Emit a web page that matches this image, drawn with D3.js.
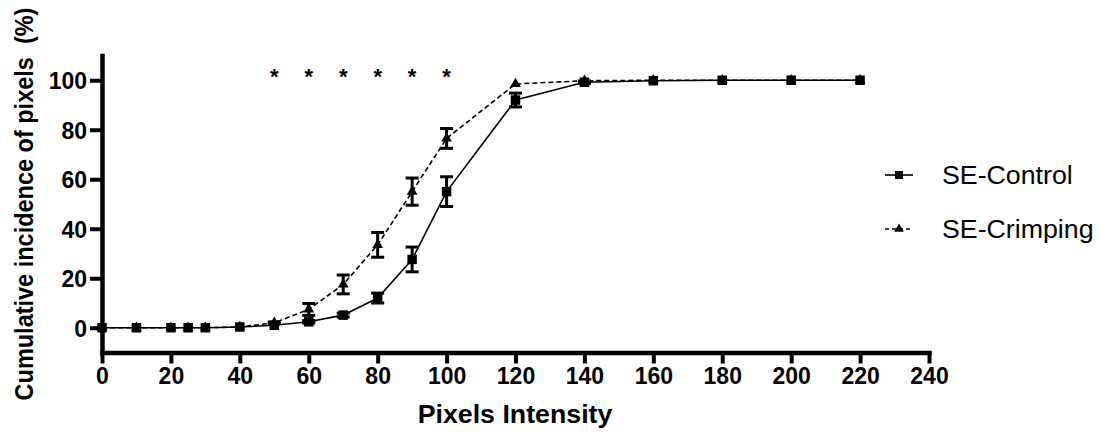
<!DOCTYPE html>
<html><head><meta charset="utf-8">
<script src="https://cdn.jsdelivr.net/npm/d3@7"></script>
<style>body{margin:0;background:#fff}svg{display:block}text{font-family:"Liberation Sans",Arial,sans-serif;fill:#000}</style>
</head><body>
<svg id="c" width="1108" height="432"></svg>
<script>
const intensities = [0,10,20,25,30,40,50,60,70,80,90,100,120,140,160,180,200,220];
const controlValues = [0,0,0,0,0,0.3,1,2.4,5.1,12,27.6,55,92,99.2,99.8,100,100,100];
const controlErrors = [0,0,0,0,0,0,0,0.5,0.8,2,5,6,2.8,0.5,0,0,0,0];
const crimpingValues = [0,0,0,0,0,0.3,2,7.4,17.5,33.5,55,76.5,98.5,99.8,100,100,100,100];
const crimpingErrors = [0,0,0,0,0,0,0.3,2.4,3.8,5,5.5,4,0,0,0,0,0,0];
const starPositions = [50,60,70,80,90,100];
const xTicks = [0,20,40,60,80,100,120,140,160,180,200,220,240];
const yTicks = [0,20,40,60,80,100];
const seriesNames = ["SE-Control","SE-Crimping"];

const svg = d3.select("#c");
const x = d3.scaleLinear().domain([0,240]).range([102,929]);
const y = d3.scaleLinear().domain([-10,110]).range([352.5,55.5]);
const SX = 1.07; // horizontal glyph stretch seen in the reference

// axes
const xAxis = svg.append("g").attr("transform",`translate(0,${y(-10)})`)
  .call(d3.axisBottom(x).tickValues(xTicks).tickSize(11).tickSizeOuter(0).tickPadding(4));
const yAxis = svg.append("g").attr("transform",`translate(${x(0)},0)`)
  .call(d3.axisLeft(y).tickValues(yTicks).tickSize(12).tickSizeOuter(0).tickPadding(3));
[xAxis,yAxis].forEach(g=>{
  g.select(".domain").attr("stroke","#000").attr("stroke-width",4.5).attr("stroke-linecap","square");
  g.selectAll(".tick line").attr("stroke","#000").attr("stroke-width",4);
  g.selectAll(".tick text").attr("font-size",23).attr("font-weight","bold")
   .attr("font-family","Liberation Sans, Arial, sans-serif").attr("fill","#000");
});
yAxis.selectAll(".tick text").attr("dy","0.36em");

// axis titles
svg.append("text").attr("transform",`translate(515,423) scale(${SX},1)`).attr("text-anchor","middle")
  .attr("font-size",25).attr("font-weight","bold").text("Pixels Intensity");
svg.append("text").attr("transform","translate(33,204) scale(1.12,1) rotate(-90)").attr("text-anchor","middle")
  .attr("font-size",23.5).attr("font-weight","bold").style("white-space","pre")
  .text("Cumulative incidence of pixels  (%)");

// series
const line = d3.line().x(d=>x(d[0])).y(d=>y(d[1]));
function drawSeries(vals, errs, dash, symbol, size){
  const pts = intensities.map((v,i)=>[v,vals[i],errs[i]]);
  svg.append("path").datum(pts).attr("d",line).attr("fill","none").attr("stroke","#000")
    .attr("stroke-width",1.6).attr("stroke-dasharray",dash);
  const eb = svg.append("g").attr("stroke","#000").attr("stroke-width",3);
  pts.filter(d=>d[2]>0).forEach(d=>{
    const cx=x(d[0]), y1=y(d[1]+d[2]), y2=y(d[1]-d[2]);
    eb.append("line").attr("x1",cx).attr("x2",cx).attr("y1",y1).attr("y2",y2);
    eb.append("line").attr("x1",cx-6.5).attr("x2",cx+6.5).attr("y1",y1).attr("y2",y1);
    eb.append("line").attr("x1",cx-6.5).attr("x2",cx+6.5).attr("y1",y2).attr("y2",y2);
  });
  svg.append("g").selectAll("path").data(pts).join("path")
    .attr("transform",d=>`translate(${x(d[0])},${y(d[1])})`)
    .attr("d",d3.symbol().type(symbol).size(size)).attr("fill","#000");
}
drawSeries(crimpingValues, crimpingErrors, "5,3", d3.symbolTriangle, 50);
drawSeries(controlValues, controlErrors, null, d3.symbolSquare, 90);

// significance stars
svg.append("g").selectAll("text").data(starPositions).join("text")
  .attr("x",d=>x(d)).attr("y",84).attr("text-anchor","middle").attr("font-size",22)
  .attr("font-weight","bold").text("*");

// legend
const leg = [{name:seriesNames[0],y:175,dash:null,sym:d3.symbolSquare,size:64},
             {name:seriesNames[1],y:229,dash:"4,3",sym:d3.symbolTriangle,size:40}];
leg.forEach(l=>{
  svg.append("line").attr("x1",885).attr("x2",913).attr("y1",l.y).attr("y2",l.y)
    .attr("stroke","#000").attr("stroke-width",1.6).attr("stroke-dasharray",l.dash);
  svg.append("path").attr("transform",`translate(899,${l.y})`)
    .attr("d",d3.symbol().type(l.sym).size(l.size)).attr("fill","#000");
  svg.append("text").attr("transform",`translate(942,${l.y+9}) scale(${SX},1)`)
    .attr("font-size",25).text(l.name);
});
</script>
</body></html>
